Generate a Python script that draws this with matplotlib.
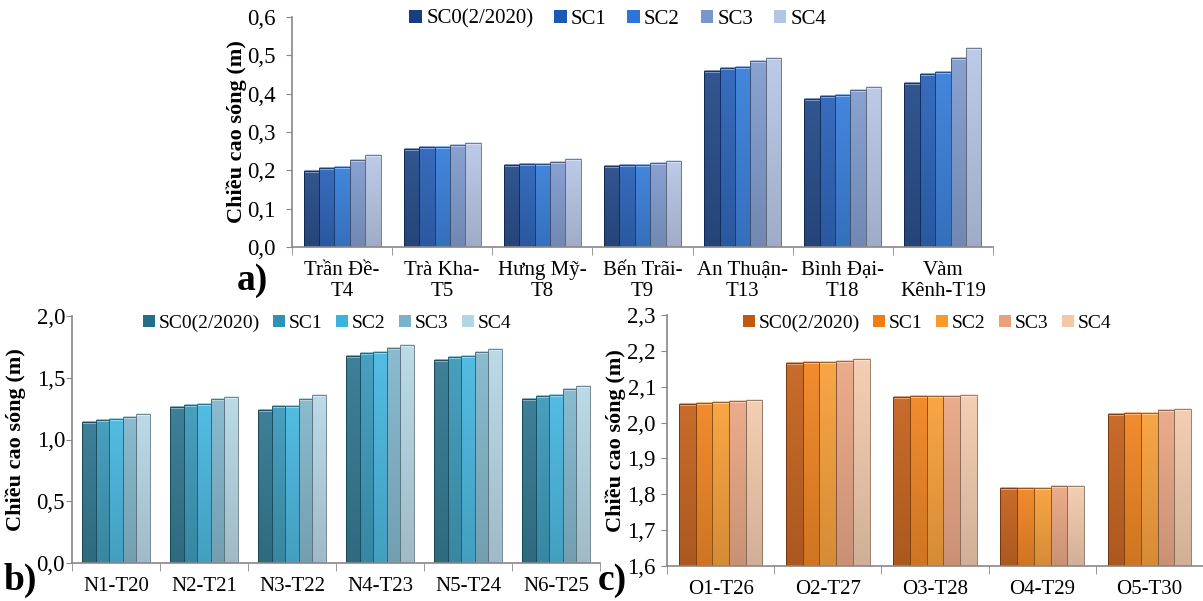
import matplotlib

matplotlib.use("Agg")
import matplotlib.pyplot as plt
import numpy as np
from matplotlib.colors import to_rgb
from matplotlib.ticker import FuncFormatter, MultipleLocator

plt.rcParams["font.family"] = ["Liberation Serif", "DejaVu Serif"]

scenarios = ["SC0(2/2020)", "SC1", "SC2", "SC3", "SC4"]

# panel a
sites_a = ["Trần Đề-\nT4", "Trà Kha-\nT5", "Hưng Mỹ-\nT8", "Bến Trãi-\nT9",
           "An Thuận-\nT13", "Bình Đại-\nT18", "Vàm\nKênh-T19"]
sc0_a = [0.197, 0.256, 0.213, 0.211, 0.459, 0.387, 0.428]
sc1_a = [0.206, 0.260, 0.216, 0.214, 0.466, 0.394, 0.452]
sc2_a = [0.209, 0.261, 0.217, 0.215, 0.469, 0.396, 0.456]
sc3_a = [0.227, 0.267, 0.223, 0.220, 0.484, 0.410, 0.494]
sc4_a = [0.240, 0.271, 0.229, 0.225, 0.493, 0.418, 0.520]

# panel b
sites_b = ["N1-T20", "N2-T21", "N3-T22", "N4-T23", "N5-T24", "N6-T25"]
sc0_b = [1.141, 1.262, 1.238, 1.680, 1.647, 1.330]
sc1_b = [1.160, 1.281, 1.268, 1.704, 1.669, 1.354]
sc2_b = [1.163, 1.284, 1.273, 1.709, 1.674, 1.357]
sc3_b = [1.184, 1.324, 1.330, 1.742, 1.709, 1.405]
sc4_b = [1.206, 1.346, 1.359, 1.763, 1.731, 1.432]

# panel c
sites_c = ["O1-T26", "O2-T27", "O3-T28", "O4-T29", "O5-T30"]
sc0_c = [2.053, 2.167, 2.071, 1.817, 2.024]
sc1_c = [2.055, 2.169, 2.073, 1.818, 2.028]
sc2_c = [2.056, 2.169, 2.073, 1.818, 2.028]
sc3_c = [2.060, 2.173, 2.075, 1.822, 2.035]
sc4_c = [2.063, 2.176, 2.076, 1.823, 2.038]

blues = ["#163f82", "#1d58b4", "#2b76d8", "#7895cc", "#b4c4e6"]
teals = ["#236f8a", "#2f93b6", "#3cb3de", "#7ab2c9", "#b2d6e6"]
oranges = ["#c2580f", "#f07c12", "#f89a2c", "#e9a17c", "#f3c8a8"]

W, H = 1203, 601
fig = plt.figure(figsize=(W / 100, H / 100), dpi=100)
fig.patch.set_facecolor("white")


def fmt(v, pos):
    return f"{v:.1f}".replace(".", ",")


def mix(c, other, t):
    c, o = np.array(to_rgb(c)), np.array(to_rgb(other))
    return tuple(c * (1 - t) + o * t)


def shade_bars(ax, bars, col):
    top = np.array(mix(col, "white", 0.12))
    bot = np.array(mix(col, "#5a5a5a", 0.22))
    grad = np.linspace(0, 1, 64)[:, None, None]
    img = bot * (1 - grad) + top * grad
    for r in bars:
        x0, y0, w, h = r.get_x(), r.get_y(), r.get_width(), r.get_height()
        im = ax.imshow(img, extent=[x0, x0 + w, y0, y0 + h], origin="lower",
                       aspect="auto", zorder=2, interpolation="bilinear")
        im.set_clip_path(r)
        ax.plot([x0, x0 + w], [y0 + h, y0 + h], color=mix(col, "white", 0.45),
                lw=2.2, zorder=3, solid_capstyle="butt")


def panel(rect, sites, series, colors, ylim, step, legend_xy, fs_leg, colsp,
          ylab_x, ypad, bw):
    l, t, r, b = rect
    ax = fig.add_axes([l / W, 1 - b / H, (r - l) / W, (b - t) / H])
    n = len(sites)
    x = np.arange(n)
    for i, (vals, col) in enumerate(zip(series, colors)):
        bars = ax.bar(x + (i - 2) * bw, np.array(vals) - ylim[0], bottom=ylim[0],
                      width=bw, color=col, edgecolor="none", label=scenarios[i],
                      zorder=1)
        shade_bars(ax, bars, col)
        for rr in bars:
            ax.add_patch(plt.Rectangle((rr.get_x(), rr.get_y()), rr.get_width(),
                                       rr.get_height(), fill=False,
                                       edgecolor=mix(col, "black", 0.45),
                                       linewidth=0.6, zorder=4))
    ax.set_xlim(-0.5, n - 0.5)
    ax.set_ylim(*ylim)
    ax.yaxis.set_major_locator(MultipleLocator(step))
    ax.yaxis.set_major_formatter(FuncFormatter(fmt))
    ax.set_xticks(x)
    ax.set_xticklabels(sites, fontsize=15, linespacing=1.15)
    ax.set_xticks(np.arange(n + 1) - 0.5, minor=True)
    ax.tick_params(axis="x", which="major", length=0, pad=10)
    ax.tick_params(axis="x", which="minor", length=6, color="#888888")
    ax.tick_params(axis="y", labelsize=16.5, length=4, color="#888888", pad=ypad)
    for s in ("top", "right"):
        ax.spines[s].set_visible(False)
    for s in ("left", "bottom"):
        ax.spines[s].set_color("#888888")
        ax.spines[s].set_linewidth(1.2)
        ax.spines[s].set_zorder(5)
    ax.set_ylabel("Chiều cao sóng (m)", fontsize=16, fontweight="bold")
    # label anchor is the right edge of the rotated text, centre + ~10 px
    ax.yaxis.set_label_coords((ylab_x + 10 - l) / (r - l), 0.5)
    ax.legend(loc="center", ncol=5, frameon=False, fontsize=fs_leg,
              bbox_to_anchor=(legend_xy[0] / W, 1 - legend_xy[1] / H),
              bbox_transform=fig.transFigure, handlelength=0.6, handleheight=0.6,
              handletextpad=0.2, columnspacing=colsp, borderpad=0)
    return ax


panel((292, 17, 993, 247), sites_a, [sc0_a, sc1_a, sc2_a, sc3_a, sc4_a],
      blues, (0, 0.6), 0.1, (618, 19), 15, 1.0, 237, 8, 0.154)
panel((72, 316, 600, 563), sites_b, [sc0_b, sc1_b, sc2_b, sc3_b, sc4_b],
      teals, (0, 2.0), 0.5, (327, 323), 14, 0.7, 16, 1, 0.155)
panel((667, 315, 1203, 566), sites_c, [sc0_c, sc1_c, sc2_c, sc3_c, sc4_c],
      oranges, (1.6, 2.3), 0.1, (927, 323), 14, 0.7, 616, 4, 0.156)

fig.text(252 / W, 1 - 280 / H, "a)", fontsize=27, fontweight="bold", ha="center", va="center")
fig.text(20 / W, 1 - 580 / H, "b)", fontsize=27, fontweight="bold", ha="center", va="center")
fig.text(612 / W, 1 - 580 / H, "c)", fontsize=27, fontweight="bold", ha="center", va="center")

fig.savefig("out.png", dpi=100, facecolor="white")
